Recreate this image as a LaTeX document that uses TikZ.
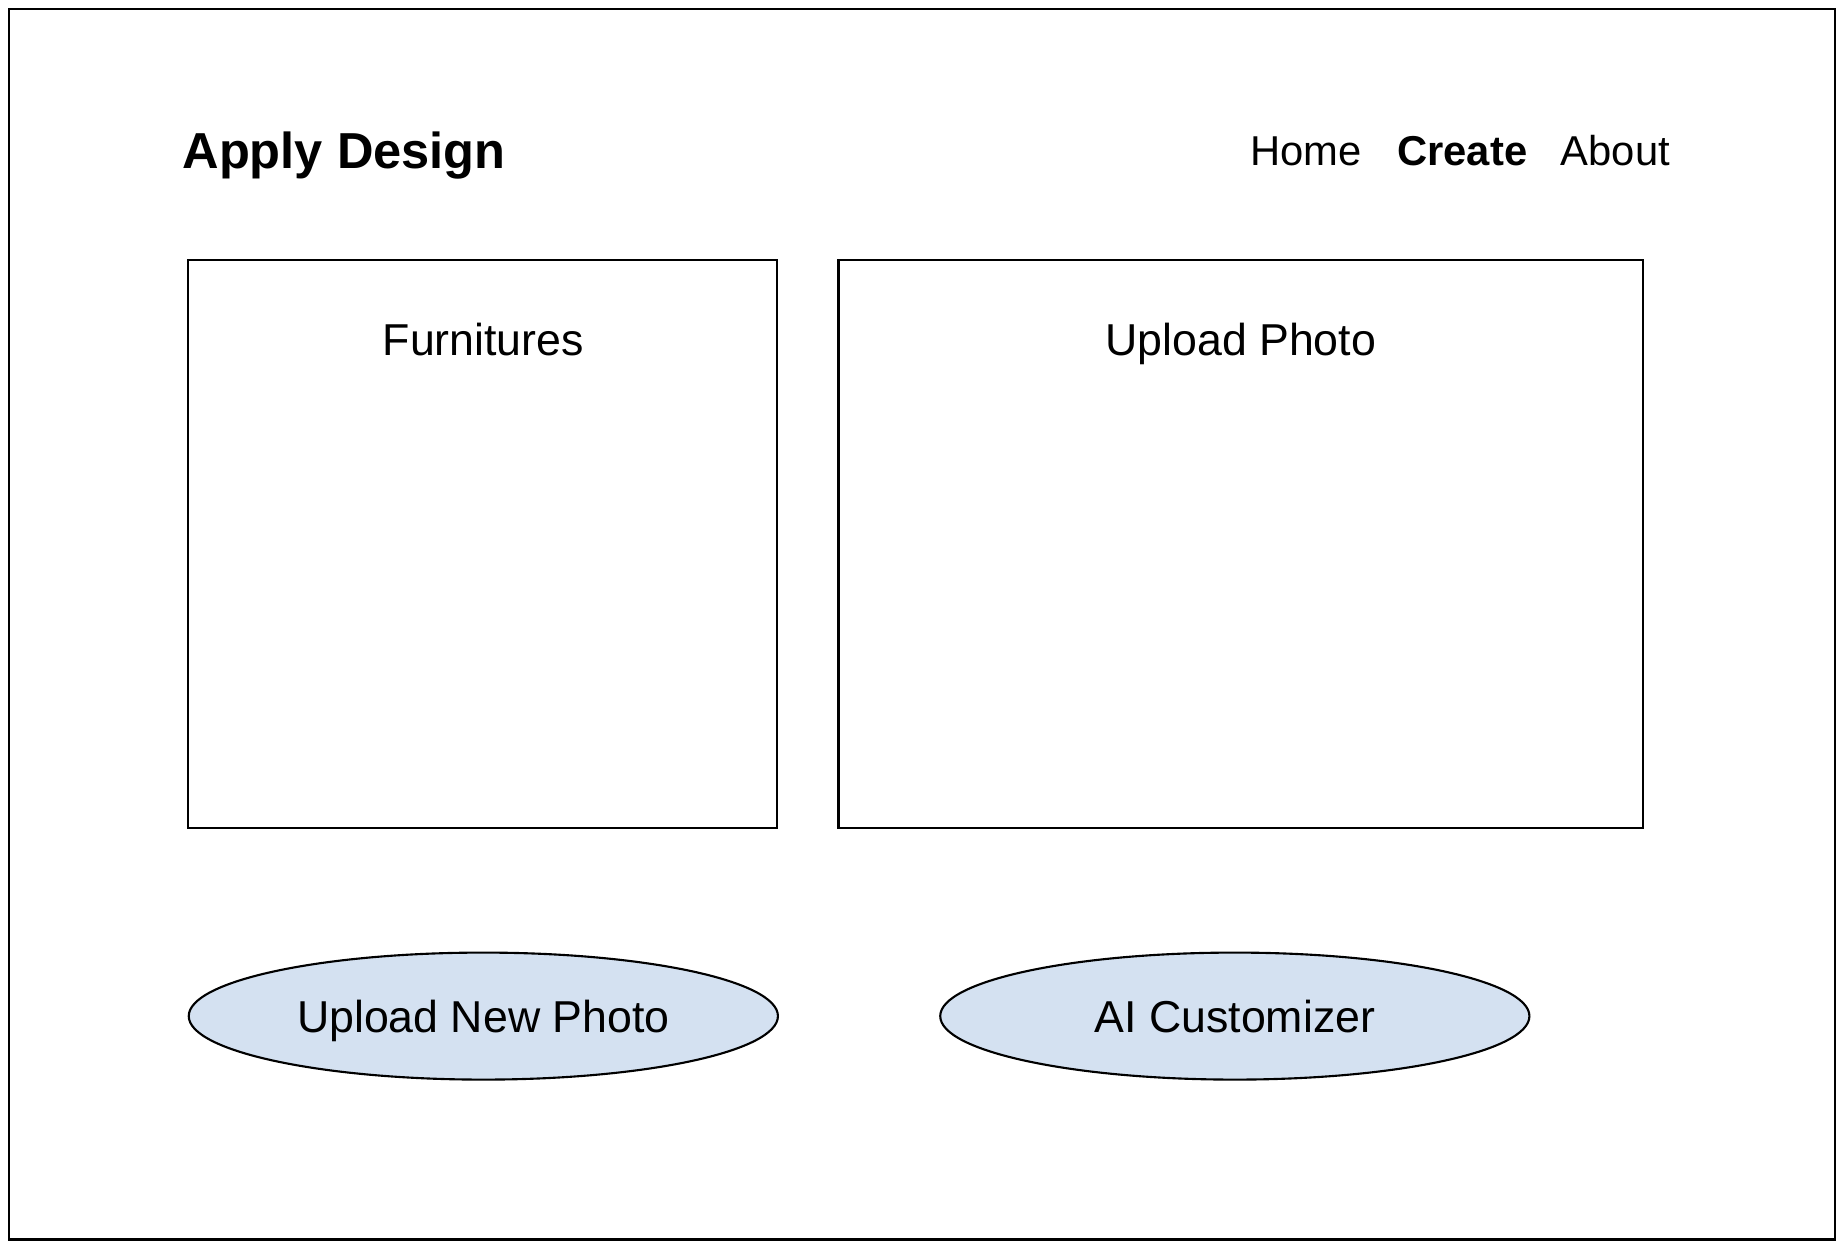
\documentclass[tikz,border=0pt]{standalone}
\usepackage{fontspec}
\setmainfont{Liberation Sans}
\usetikzlibrary{shapes.geometric}
\definecolor{btnblue}{HTML}{D4E1F1}
\tikzset{
  frame/.style={draw=black, line width=1.8pt},
  panel/.style={draw=black, line width=1.8pt},
  btn/.style={draw=black, line width=1.8pt, fill=btnblue, ellipse, inner sep=0pt,
    minimum width=501pt, minimum height=108pt, font=\fontsize{38}{44}\selectfont,
    text height=27.2pt, text depth=0pt},
  lbl/.style={inner sep=0pt, text depth=0pt, text height=27.2pt, font=\fontsize{38}{44}\selectfont},
  navlbl/.style={inner sep=0pt, text depth=0pt, text height=25.4pt, font=\fontsize{35.5}{42}\selectfont},
  navbold/.style={navlbl, font=\fontsize{35.5}{42}\selectfont\bfseries},
  title/.style={inner sep=0pt, text depth=0pt, text height=30.8pt, font=\fontsize{43}{50}\selectfont\bfseries},
}
\begin{document}
\begin{tikzpicture}[x=1pt,y=-1pt]
\useasboundingbox (0,0) rectangle (1568,1061.2);
\draw[frame] (8,8) rectangle (1560,1054);
\node[title, anchor=west] (title) at (155,128) {Apply Design};
\node[navlbl, anchor=west] (home) at (1063,128) {Home};
\node[navbold, anchor=west] (create) at (1188,128) {Create};
\node[navlbl, anchor=west] (about) at (1327,128) {About};
\draw[panel] (160,221) rectangle (661,704);
\node[lbl] (furn) at (411,289) {Furnitures};
\draw[panel] (713,221) rectangle (1397,704);
\node[lbl] (upl) at (1055,289) {Upload Photo};
\node[btn] (newphoto) at (411,864) {Upload New Photo};
\node[btn] (ai) at (1050,864) {AI Customizer};
\end{tikzpicture}
\end{document}
